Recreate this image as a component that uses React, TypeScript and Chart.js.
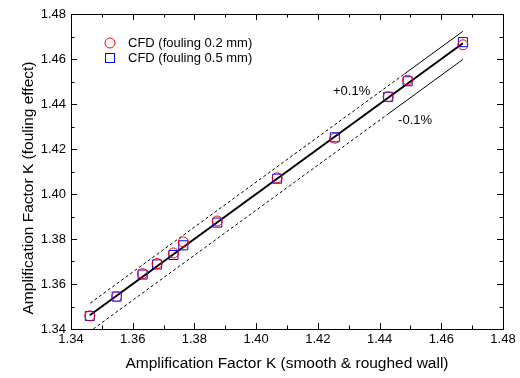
import React, { useEffect, useRef } from 'react';
import { Chart, registerables } from 'chart.js';

Chart.register(...registerables);

// ---- data ----
const kSmooth = [1.3461, 1.3548, 1.3632, 1.3679, 1.3732, 1.3764, 1.3874, 1.4068, 1.4255, 1.4428, 1.4491, 1.4670];
const kFouling02 = [1.3458, 1.3544, 1.3646, 1.3691, 1.3738, 1.3787, 1.3880, 1.4072, 1.4248, 1.4432, 1.4506, 1.4663];
const kFouling05 = [1.3458, 1.3544, 1.3642, 1.3687, 1.3729, 1.3772, 1.3873, 1.4068, 1.4252, 1.4432, 1.4501, 1.4675];

const fitX = [1.3461, 1.4670];
const upperX = [1.3462, 1.4480, 1.4670];
const lowerX = [1.3472, 1.4430, 1.4670];
const upperOffset = 0.0053;
const lowerOffset = -0.0072;

const xTicks = [1.34, 1.36, 1.38, 1.40, 1.42, 1.44, 1.46, 1.48];
const yTicks = [1.34, 1.36, 1.38, 1.40, 1.42, 1.44, 1.46, 1.48];

const seriesLabels = ['CFD (fouling 0.2 mm)', 'CFD (fouling 0.5 mm)'];
const bandLabels = ['+0.1%', '-0.1%'];
const bandLabelX = [1.4249, 1.4460];
const bandLabelY = [1.4454, 1.4326];

const xTitle = 'Amplification Factor K (smooth & roughed wall)';
const yTitle = 'Amplification Factor K (fouling effect)';

const FONT = '"Liberation Sans", Arial, sans-serif';

const framePlugin = {
  id: 'frame',
  afterDraw(chart: any) {
    const { ctx, chartArea: a, scales } = chart;
    const xs = scales.x;
    const ys = scales.y;
    ctx.save();
    ctx.strokeStyle = '#000';
    ctx.lineWidth = 1;
    // frame
    ctx.strokeRect(Math.round(a.left) + 0.5, Math.round(a.top) + 0.5, Math.round(a.right - a.left), Math.round(a.bottom - a.top));
    const major = 6;
    const minor = 3.5;
    const mids = (arr: number[]) => arr.slice(0, -1).map((v, i) => (v + arr[i + 1]) / 2);
    ctx.beginPath();
    const xt = (v: number, len: number) => {
      const px = Math.round(xs.getPixelForValue(v)) + 0.5;
      ctx.moveTo(px, a.bottom); ctx.lineTo(px, a.bottom - len);
      ctx.moveTo(px, a.top); ctx.lineTo(px, a.top + len);
    };
    const yt = (v: number, len: number) => {
      const py = Math.round(ys.getPixelForValue(v)) + 0.5;
      ctx.moveTo(a.left, py); ctx.lineTo(a.left + len, py);
      ctx.moveTo(a.right, py); ctx.lineTo(a.right - len, py);
    };
    xTicks.forEach(v => xt(v, major));
    mids(xTicks).forEach(v => xt(v, minor));
    yTicks.forEach(v => yt(v, major));
    mids(yTicks).forEach(v => yt(v, minor));
    ctx.stroke();

    // legend
    ctx.font = `13px ${FONT}`;
    ctx.fillStyle = '#000';
    ctx.textBaseline = 'middle';
    ctx.textAlign = 'left';
    const lx = a.left + 39;
    const ly0 = a.top + 29;
    ctx.lineWidth = 1;
    ctx.strokeStyle = '#ff0000';
    ctx.beginPath();
    ctx.arc(lx, ly0, 5, 0, Math.PI * 2);
    ctx.stroke();
    ctx.fillText(seriesLabels[0], lx + 18, ly0);
    ctx.strokeStyle = '#0000ff';
    ctx.strokeRect(lx - 4.5, ly0 + 15 - 4.5, 9, 9);
    ctx.fillText(seriesLabels[1], lx + 18, ly0 + 15);

    // band labels
    bandLabels.forEach((t, i) => {
      ctx.fillText(t, xs.getPixelForValue(bandLabelX[i]), ys.getPixelForValue(bandLabelY[i]));
    });

    // axis titles
    ctx.font = `15.5px ${FONT}`;
    ctx.textAlign = 'center';
    ctx.fillText(xTitle, (a.left + a.right) / 2, 364);
    ctx.translate(29, 188);
    ctx.rotate(-Math.PI / 2);
    ctx.fillText(yTitle, 0, 0);
    ctx.restore();
  },
};

export default function App() {
  const ref = useRef<HTMLCanvasElement>(null);
  useEffect(() => {
    document.body.style.margin = '0';
    const pts = (xs: number[], ys: number[]) => xs.map((x, i) => ({ x, y: ys[i] }));
    const dashSeg = { borderDash: (c: any) => (c.p0DataIndex === 0 ? [3, 2.5] : undefined) };
    const chart = new Chart(ref.current as HTMLCanvasElement, {
      type: 'scatter',
      data: {
        datasets: [
          {
            label: seriesLabels[0],
            data: pts(kSmooth, kFouling02),
            pointStyle: 'circle',
            pointRadius: 5,
            borderColor: '#ff0000',
            backgroundColor: 'rgba(0,0,0,0)',
            borderWidth: 1,
            showLine: false,
          },
          {
            label: seriesLabels[1],
            data: pts(kSmooth, kFouling05),
            pointStyle: 'rect',
            pointRadius: 6.4,
            borderColor: '#0000ff',
            backgroundColor: 'rgba(0,0,0,0)',
            borderWidth: 1,
            showLine: false,
          },
          {
            label: 'fit',
            data: pts(fitX, fitX),
            showLine: true,
            pointRadius: 0,
            borderColor: '#000',
            borderWidth: 2,
          },
          {
            label: 'upper',
            data: pts(upperX, upperX.map(v => v + upperOffset)),
            showLine: true,
            pointRadius: 0,
            borderColor: '#000',
            borderWidth: 1,
            segment: dashSeg,
          },
          {
            label: 'lower',
            data: pts(lowerX, lowerX.map(v => v + lowerOffset)),
            showLine: true,
            pointRadius: 0,
            borderColor: '#000',
            borderWidth: 1,
            segment: dashSeg,
          },
        ] as any,
      },
      options: {
        responsive: false,
        maintainAspectRatio: false,
        animation: false,
        layout: { padding: { top: 14, right: 17, left: 0, bottom: 0 } },
        plugins: { legend: { display: false }, tooltip: { enabled: false } },
        scales: {
          x: {
            type: 'linear',
            min: 1.34,
            max: 1.48,
            grid: { display: false, drawTicks: false },
            border: { display: false },
            afterBuildTicks: (s: any) => { s.ticks = xTicks.map(v => ({ value: v })); },
            afterFit: (s: any) => { s.height = 49; },
            ticks: {
              padding: 3,
              maxRotation: 0,
              color: '#000',
              font: { family: FONT, size: 13 },
              callback: (v: any) => Number(v).toFixed(2),
            },
          },
          y: {
            type: 'linear',
            min: 1.34,
            max: 1.48,
            grid: { display: false, drawTicks: false },
            border: { display: false },
            afterBuildTicks: (s: any) => { s.ticks = yTicks.map(v => ({ value: v })); },
            afterFit: (s: any) => { s.width = 71; },
            ticks: {
              padding: 5,
              color: '#000',
              font: { family: FONT, size: 13 },
              callback: (v: any) => Number(v).toFixed(2),
            },
          },
        },
      } as any,
      plugins: [framePlugin],
    });
    return () => chart.destroy();
  }, []);
  return (
    <div style={{ position: 'fixed', left: 0, top: 0, width: 520, height: 378, background: '#fff' }}>
      <canvas ref={ref} width={520} height={378} />
    </div>
  );
}
